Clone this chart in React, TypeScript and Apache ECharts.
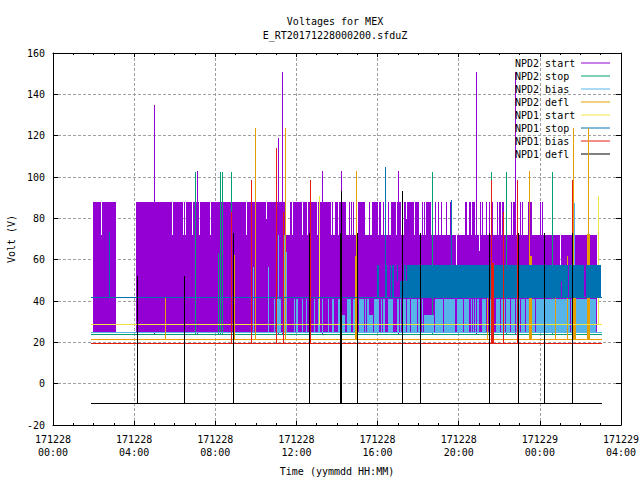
import React, { useEffect, useRef } from "react";
import * as echarts from "echarts";

const MONO = '"DejaVu Sans Mono", "Liberation Mono", monospace';
const titleText = "Voltages for MEX\nE_RT20171228000200.sfduZ";
const xTitle = "Time (yymmdd HH:MM)";
const yTitle = "Volt (V)";
const xTickLabels = ["171228\n00:00", "171228\n04:00", "171228\n08:00", "171228\n12:00", "171228\n16:00", "171228\n20:00", "171229\n00:00", "171229\n04:00"];

const seriesNames = ["NPD2 start", "NPD2 stop", "NPD2 bias", "NPD2 defl", "NPD1 start", "NPD1 stop", "NPD1 bias", "NPD1 defl"];
const seriesColors = ["#9400d3", "#009e73", "#56b4e9", "#e69f00", "#f0e442", "#0072b2", "#e51e10", "#000000"];
const runStart = 1.89;
const runEnd = 27.04;

// Resting level of each series (V)
const baseLevels = [24.1, 23.8, 24.8, 21.4, 28.7, 41.7, 19.5, -9.5];

// Spikes: [hour, peak volts]
const npd2StartSpikes = [[4.96, 135], [7.08, 103], [11.11, 119], [11.31, 150.6], [13.28, 103], [14.2, 103], [17.02, 103], [20.85, 150.6], [22.77, 150.6]];
const npd2StopSpikes = [[7.02, 102.3], [8.21, 102.3], [8.31, 102.3], [8.75, 102.3], [18.69, 102.3], [21.59, 102.3], [22.33, 102.3], [24.6, 102.3]];
const npd2BiasSpikes = [[9.88, 56.4], [10.62, 56.4], [11.11, 71.8], [25.68, 87.5]];
const npd2DeflSpikes = [[5.5, 41.4], [8.9, 62.1], [9.98, 123.5], [11.01, 103], [11.46, 123.5], [14.95, 103], [21.4, 41.5], [23.46, 103], [24.74, 41.5], [25.33, 62], [25.63, 123.5], [26.37, 123.5]];
const npd1StartSpikes = [[13.13, 91], [26.86, 91]];
const npd1StopSpikes = [[2.75, 73.3], [16.38, 104.6], [19.62, 88.7]];
const npd1BiasSpikes = [[8.77, 83], [9.78, 98.4], [10.98, 114], [11.36, 83], [12.69, 98.4], [21.59, 98.4], [22.18, 83], [22.87, 98.4], [25.58, 98.4]];
const npd1DeflSpikes = [[4.13, 52], [6.44, 52], [8.85, 72.8], [12.64, 72.8], [14.2, 93], [15, 72.8], [17.21, 93], [18.1, 72.8], [21.49, 72.8], [22.92, 72.8], [24.2, 72.8], [25.58, 72.8]];

// Filled spans: [from hour, to hour, low volts, high volts]
const npd2StartBody = [[1.99, 3.13, 24.5, 71.8], [4.11, 19.86, 24.5, 71.8], [19.86, 19.91, 24.5, 57.3], [19.91, 20.99, 24.5, 71.8], [20.99, 21.04, 24.5, 64], [21.04, 24.97, 24.5, 71.8], [24.97, 25.02, 24.5, 57.3], [25.02, 26.84, 24.5, 71.8], [10.51, 10.55, 71.8, 79.6], [17.4, 17.44, 71.8, 79.6]];
// Spans where NPD2 start also reaches the upper level (71.8 to 87.8 V): [from hour, to hour]
const npd2StartTeeth = [[1.99, 2.39], [2.44, 3.13], [4.11, 5.88], [5.93, 6.42], [6.47, 6.52], [6.57, 6.86], [6.91, 7.21], [7.26, 7.75], [7.8, 9.52], [9.57, 10.51], [10.55, 11.49], [11.69, 11.79], [11.83, 12.28], [12.33, 12.52], [12.57, 13.02], [13.06, 13.7], [13.75, 13.8], [13.9, 14.05], [14.1, 14.44], [14.59, 14.64], [14.69, 14.74], [14.79, 14.84], [15.03, 15.38], [15.58, 15.62], [15.72, 16.02], [16.07, 16.17], [16.26, 16.31], [16.51, 16.56], [16.66, 16.9], [16.95, 17.15], [17.3, 17.4], [17.44, 17.79], [17.84, 18.04], [18.18, 18.23], [18.28, 18.33], [18.38, 18.63], [18.82, 18.87], [18.97, 19.02], [19.12, 19.17], [19.36, 19.41], [19.56, 19.61], [20.3, 20.4], [20.5, 20.6], [20.64, 20.79], [20.84, 20.89], [21.04, 21.09], [21.14, 21.19], [21.33, 21.38], [21.48, 21.53], [21.63, 21.68], [21.87, 21.92], [21.97, 22.07], [22.12, 22.22], [22.56, 22.61], [22.66, 22.81], [23.01, 23.06], [23.11, 23.15], [23.4, 23.6], [23.99, 24.04], [24.09, 24.14]];
const npd2StopBody = [[8.11, 8.17, 24, 63]];
const npd2BiasBody = [
  [10.9, 10.95, 24.8, 41], [11, 11.24, 24.8, 41], [11.39, 11.49, 24.8, 71.8], [11.49, 11.54, 24.8, 63.6],
  [11.88, 11.93, 24.8, 41], [11.98, 12.08, 24.8, 41], [12.28, 12.33, 24.8, 41], [12.47, 12.52, 24.8, 41],
  [12.87, 12.92, 24.8, 41], [13.06, 13.16, 24.8, 41], [13.26, 13.31, 24.8, 41], [13.56, 13.61, 24.8, 41],
  [13.75, 13.85, 24.8, 41], [14.05, 14.15, 24.8, 41], [14.25, 14.39, 24.8, 33], [14.49, 14.69, 24.8, 41],
  [14.79, 15.03, 24.8, 41], [15.08, 15.33, 24.8, 41], [15.38, 15.43, 24.8, 41], [15.48, 15.58, 24.8, 41],
  [15.53, 15.77, 24.8, 33], [15.82, 16.07, 24.8, 41], [16.17, 16.22, 24.8, 41], [16.26, 16.36, 24.8, 41],
  [16.51, 16.76, 24.8, 41], [16.95, 17.05, 24.8, 41], [17.1, 17.15, 24.8, 41], [17.2, 17.4, 24.8, 41],
  [17.44, 17.59, 24.8, 41], [17.64, 17.94, 24.8, 41], [17.99, 18.13, 24.8, 41], [18.18, 18.23, 24.8, 41],
  [18.28, 18.77, 24.8, 33], [18.82, 19.22, 24.8, 41], [19.27, 19.81, 24.8, 41], [19.91, 20.2, 24.8, 41],
  [20.25, 20.5, 24.8, 41], [20.6, 20.64, 24.8, 41], [20.69, 20.74, 24.8, 41], [20.79, 20.84, 24.8, 41],
  [20.89, 20.99, 24.8, 41], [21.14, 21.33, 24.8, 41], [21.48, 21.63, 24.8, 41], [21.63, 21.73, 24.8, 33],
  [21.82, 22.02, 24.8, 41], [22.07, 22.27, 24.8, 41], [22.32, 22.51, 24.8, 41], [22.56, 22.76, 24.8, 41],
  [22.81, 23.01, 24.8, 41], [23.06, 23.25, 24.8, 41], [23.3, 23.45, 24.8, 41], [23.6, 23.74, 24.8, 41],
  [23.79, 25.47, 24.8, 41], [25.52, 26.79, 24.8, 41],
];
const npd2DeflBody = [[14.88, 15, 21.4, 62], [23.45, 23.6, 21.4, 62], [25.63, 25.8, 21.4, 41.5], [26.3, 26.45, 21.4, 72.4]];
const npd1StopBody = [
  [15.97, 16.07, 41.7, 57.3], [16.36, 16.46, 41.7, 57.3], [16.61, 16.66, 41.7, 57.3], [16.71, 16.81, 41.7, 57.3],
  [16.95, 17, 49.6, 57.3], [17.1, 17.3, 41.7, 49.6], [17.3, 17.4, 41.7, 57.3], [17.4, 17.44, 41.7, 49.6],
  [17.44, 25.02, 41.7, 57.3], [25.02, 25.07, 49.6, 57.3], [25.07, 25.37, 41.7, 57.3], [25.42, 26.2, 41.7, 57.3], [26.25, 26.99, 41.7, 57.3],
];
const npd1BiasBody = [[21.63, 21.73, 19.5, 58.4]];
const npd1DeflBody = [[14.15, 14.25, -9.5, 72.8]];

const allSpikes = [npd2StartSpikes, npd2StopSpikes, npd2BiasSpikes, npd2DeflSpikes, npd1StartSpikes, npd1StopSpikes, npd1BiasSpikes, npd1DeflSpikes];
const allBodies = [
  [...npd2StartBody, ...npd2StartTeeth.map(([a, b]) => [a, b, 71.8, 87.8])],
  npd2StopBody, npd2BiasBody, npd2DeflBody, [], npd1StopBody, npd1BiasBody, npd1DeflBody,
];

const axisLine = { show: true, onZero: false, lineStyle: { color: "#000", width: 1 } };
const grid = { type: [3, 2], color: "#a0a0a0", width: 1 };

function markRenderer(color: string) {
  return (_p: any, api: any) => {
    const a = api.coord([api.value(0), api.value(2)]);
    const b = api.coord([api.value(1), api.value(3)]);
    const x0 = Math.round(a[0]);
    const x1 = Math.round(b[0]);
    const yb = Math.round(a[1]);
    const yt = Math.round(b[1]);
    return {
      type: "rect",
      shape: { x: x0, y: yt, width: Math.max(x1 - x0, 1), height: Math.max(yb - yt, 1) },
      style: { fill: color },
    };
  };
}

export default function App() {
  const ref = useRef<HTMLDivElement>(null);
  useEffect(() => {
    const chart = echarts.init(ref.current!, undefined, { renderer: "svg" });
    const hourToLabel = (v: number) => xTickLabels[Math.round(v / 4)] ?? "";
    chart.setOption({
      animation: false,
      backgroundColor: "#fff",
      textStyle: { fontFamily: MONO },
      title: {
        text: titleText,
        left: 330,
        top: 9,
        textAlign: "center",
        textStyle: { fontFamily: MONO, fontSize: 10, fontWeight: "normal", color: "#000", lineHeight: 14 },
      },
      legend: {
        orient: "vertical",
        right: 25,
        top: 53,
        align: "right",
        itemGap: 3,
        itemWidth: 29,
        itemHeight: 1,
        icon: "rect",
        selectedMode: false,
        data: seriesNames,
        formatter: (n: string) => `{a|${n}}`,
        textStyle: {
          color: "#000",
          fontFamily: MONO,
          fontSize: 10,
          rich: { a: { width: 61, height: 10, lineHeight: 10, align: "left", fontFamily: MONO, fontSize: 10, color: "#000" } },
        },
      },
      grid: { left: 53, top: 53, width: 568, height: 372, containLabel: false, outerBoundsMode: "none" },
      xAxis: [
        {
          type: "value", min: 0, max: 28, interval: 4, position: "bottom",
          name: xTitle, nameLocation: "middle", nameGap: 41,
          nameTextStyle: { fontFamily: MONO, fontSize: 10, color: "#000", fontWeight: "normal" },
          axisLine,
          axisTick: { inside: true, length: 4, lineStyle: { color: "#000" } },
          minorTick: { show: true, splitNumber: 4, length: 2, lineStyle: { color: "#000" } },
          axisLabel: { formatter: hourToLabel, margin: 8, fontFamily: MONO, fontSize: 10, lineHeight: 13, color: "#000", showMinLabel: true, showMaxLabel: true, hideOverlap: false },
          splitLine: { show: true, lineStyle: grid },
        },
        {
          type: "value", min: 0, max: 28, interval: 4, position: "top",
          axisLine,
          axisTick: { inside: true, length: 4, lineStyle: { color: "#000" } },
          minorTick: { show: true, splitNumber: 4, length: 2, lineStyle: { color: "#000" } },
          axisLabel: { show: false },
          splitLine: { show: false },
        },
      ],
      yAxis: [
        {
          type: "value", min: -20, max: 160, interval: 20, position: "left",
          name: yTitle, nameLocation: "middle", nameGap: 37, nameRotate: 90,
          nameTextStyle: { fontFamily: MONO, fontSize: 10, color: "#000", fontWeight: "normal" },
          axisLine,
          axisTick: { inside: true, length: 5, lineStyle: { color: "#000" } },
          axisLabel: { margin: 8, fontFamily: MONO, fontSize: 10, color: "#000", showMinLabel: true, showMaxLabel: true },
          splitLine: { show: true, lineStyle: grid },
        },
        {
          type: "value", min: -20, max: 160, interval: 20, position: "right",
          axisLine,
          axisTick: { inside: true, length: 5, lineStyle: { color: "#000" } },
          axisLabel: { show: false },
          splitLine: { show: false },
        },
      ],
      series: seriesNames.map((name, i) => ({
        type: "custom",
        name,
        silent: true,
        clip: false,
        z: 2 + i,
        itemStyle: { color: seriesColors[i] },
        encode: { x: [0, 1], y: [2, 3] },
        renderItem: markRenderer(seriesColors[i]),
        data: [
          ...allBodies[i],
          [runStart, runEnd, baseLevels[i], baseLevels[i]],
          ...allSpikes[i].map(([h, top]) => [h, h, baseLevels[i], top]),
        ],
      })),
    });
    return () => chart.dispose();
  }, []);
  return <div ref={ref} style={{ position: "fixed", left: 0, top: 0, width: 640, height: 480 }} />;
}
